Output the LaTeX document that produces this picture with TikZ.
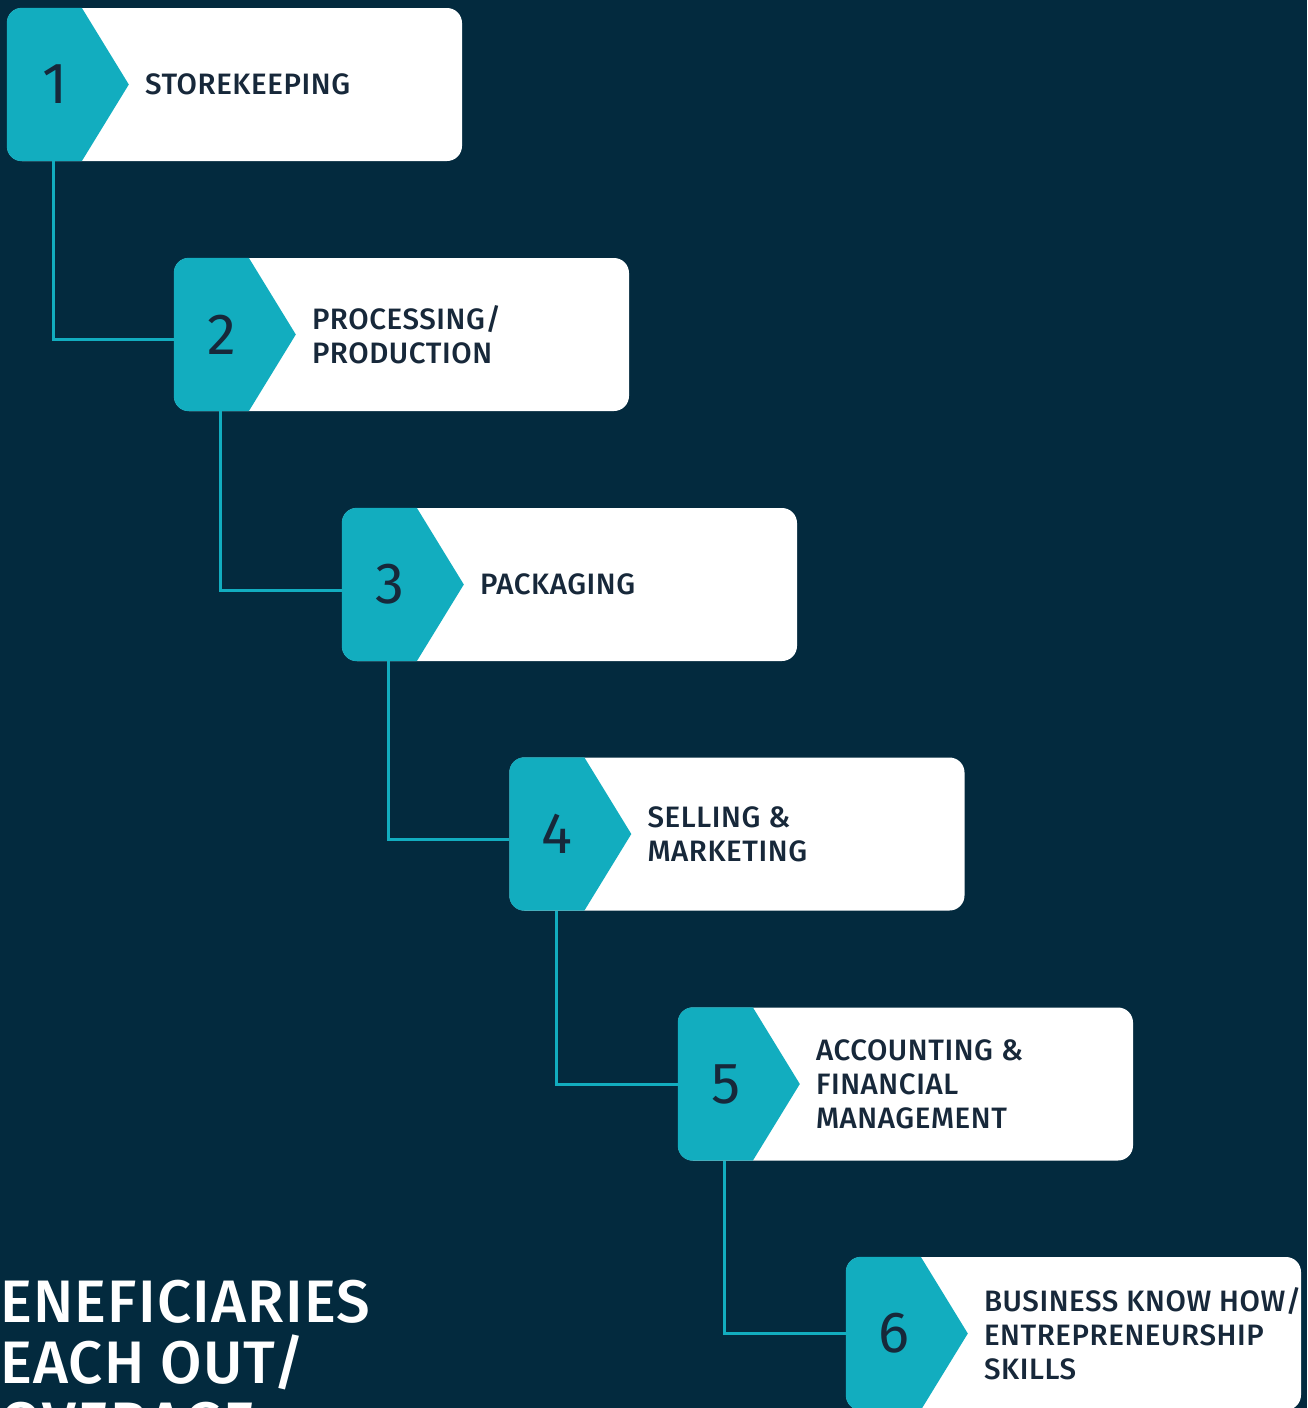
\documentclass[tikz,border=0pt]{standalone}
\usepackage{fontspec}
\setsansfont{Fira Sans}[BoldFont={Fira Sans Medium}, LetterSpace=2]
\usetikzlibrary{calc}

\definecolor{navy}{HTML}{032A3E}
\definecolor{stepteal}{HTML}{12ADBF}
\definecolor{inkblue}{HTML}{17283A}

% teal arrow head on the left part of a step box
\newcommand{\stephead}[1]{%
  \begin{scope}
    \clip[rounded corners=15pt] (#1.north west) rectangle (#1.south east);
    \fill[stepteal] (#1.north west) -- ([xshift=75pt]#1.north west)
      -- ([xshift=122pt]#1.west) -- ([xshift=75pt]#1.south west)
      -- (#1.south west) -- cycle;
  \end{scope}}

\begin{document}
\begin{tikzpicture}[
      x = 1pt, y = -1pt,
      stepbox/.style = {fill = white, rounded corners = 15pt,
        minimum width = 455pt, minimum height = 153pt, inner sep = 0pt},
      stepnum/.style = {font = \sffamily\fontsize{58}{58}\selectfont, text = inkblue, inner sep = 0pt},
      steptext/.style = {anchor = west, align = left, inner sep = 0pt, text = inkblue,
        font = \sffamily\bfseries\fontsize{29.5}{34}\selectfont},
      link/.style = {draw = stepteal, line width = 3pt},
      bigtext/.style = {anchor = base west, inner sep = 0pt, text = white,
        font = \sffamily\bfseries\fontsize{60}{60}\selectfont}]
  \clip (0,0) rectangle (1307,1408);
  \fill[navy] (0,0) rectangle (1307,1408);

  % boxes
  \node[stepbox] (box1) at (234.5,84.5) {};
  \node[stepbox] (box2) at (401.5,334.5) {};
  \node[stepbox] (box3) at (569.5,584.5) {};
  \node[stepbox] (box4) at (737,834) {};
  \node[stepbox] (box5) at (905.5,1084) {};
  \node[stepbox] (box6) at (1073.5,1333.5) {};
  \stephead{box1}
  \stephead{box2}
  \stephead{box3}
  \stephead{box4}
  \stephead{box5}
  \stephead{box6}

  % connectors
  \draw[link] ([xshift=47pt]box1.south west) |- ([yshift=-5pt]box2.west);
  \draw[link] ([xshift=47pt]box2.south west) |- ([yshift=-6pt]box3.west);
  \draw[link] ([xshift=47pt]box3.south west) |- ([yshift=-5pt]box4.west);
  \draw[link] ([xshift=47pt]box4.south west) |- (box5.west);
  \draw[link] ([xshift=47pt]box5.south west) |- (box6.west);

  % numbers
  \node[stepnum] (num1) at ([xshift=48pt]box1.west) {1};
  \node[stepnum] (num2) at ([xshift=48pt]box2.west) {2};
  \node[stepnum] (num3) at ([xshift=48pt]box3.west) {3};
  \node[stepnum] (num4) at ([xshift=48pt]box4.west) {4};
  \node[stepnum] (num5) at ([xshift=48pt]box5.west) {5};
  \node[stepnum] (num6) at ([xshift=48pt]box6.west) {6};

  % labels
  \node[steptext] (txt1) at ([xshift=138pt]box1.west) {STOREKEEPING};
  \node[steptext] (txt2) at ([xshift=138pt]box2.west) {PROCESSING/\\PRODUCTION};
  \node[steptext] (txt3) at ([xshift=138pt]box3.west) {PACKAGING};
  \node[steptext] (txt4) at ([xshift=138pt]box4.west) {SELLING \&\\MARKETING};
  \node[steptext] (txt5) at ([xshift=138pt]box5.west) {ACCOUNTING \&\\FINANCIAL\\MANAGEMENT};
  \node[steptext] (txt6) at ([xshift=138pt]box6.west) {BUSINESS KNOW HOW/\\ENTREPRENEURSHIP\\SKILLS};

  % cut-off heading, bottom left
  \node[bigtext] (head1) at (0,1322) {ENEFICIARIES};
  \node[bigtext] (head2) at (0,1383) {EACH OUT/};
  \node[bigtext] (head3) at (0,1444) {OVERAGE};
\end{tikzpicture}
\end{document}
